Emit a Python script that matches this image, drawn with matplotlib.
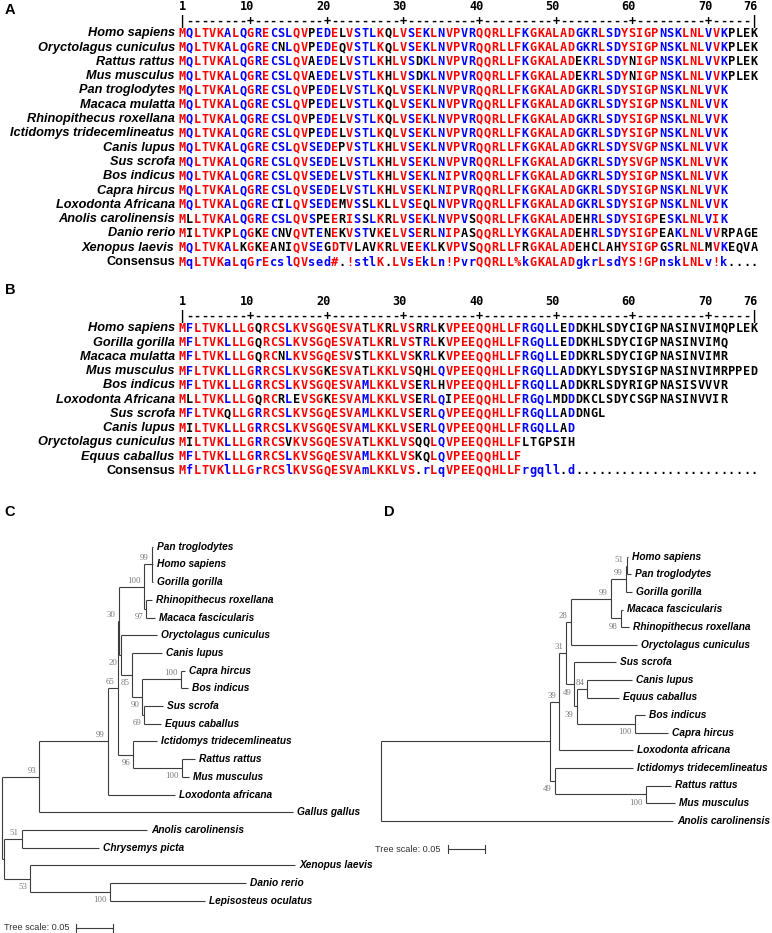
import re
import matplotlib.pyplot as plt

# ---------------- data ----------------
species_a = ["Homo sapiens", "Oryctolagus cuniculus", "Rattus rattus", "Mus musculus",
             "Pan troglodytes", "Macaca mulatta", "Rhinopithecus roxellana",
             "Ictidomys tridecemlineatus", "Canis lupus", "Sus scrofa", "Bos indicus",
             "Capra hircus", "Loxodonta Africana", "Anolis carolinensis", "Danio rerio",
             "Xenopus laevis"]
seqs_a = [
    "MQLTVKALQGRECSLQVPEDELVSTLKQLVSEKLNVPVRQQRLLFKGKALADGKRLSDYSIGPNSKLNLVVKPLEK",
    "MQLTVKALQGRECNLQVPEDEQVSTLKQLVSEKLNVPVRQQRLLFKGKALADGKRLSDYSIGPNSKLNLVVKPLEK",
    "MQLTVKALQGRECSLQVAEDELVSTLKHLVSDKLNVPVRQQRLLFKGKALADEKRLSDYNIGPNSKLNLVVKPLEK",
    "MQLTVKALQGRECSLQVAEDELVSTLKHLVSDKLNVPVRQQRLLFKGKALADEKRLSDYNIGPNSKLNLVVKPLEK",
    "MQLTVKALQGRECSLQVPEDELVSTLKQLVSEKLNVPVRQQRLLFKGKALADGKRLSDYSIGPNSKLNLVVK",
    "MQLTVKALQGRECSLQVPEDELVSTLKQLVSEKLNVPVRQQRLLFKGKALADGKRLSDYSIGPNSKLNLVVK",
    "MQLTVKALQGRECSLQVPEDELVSTLKQLVSEKLNVPVRQQRLLFKGKALADGKRLSDYSIGPNSKLNLVVK",
    "MQLTVKALQGRECSLQVPEDELVSTLKQLVSEKLNVPVRQQRLLFKGKALADGKRLSDYSIGPNSKLNLVVK",
    "MQLTVKALQGRECSLQVSEDEPVSTLKHLVSEKLNVPVRQQRLLFKGKALADGKRLSDYSVGPNSKLNLVVK",
    "MQLTVKALQGRECSLQVSEDELVSTLKHLVSEKLNVPVRQQRLLFKGKALADGKRLSDYSVGPNSKLNLVVK",
    "MQLTVKALQGRECSLQVSEDELVSTLKHLVSEKLNIPVRQQRLLFKGKALADGKRLSDYSIGPNSKLNLVVK",
    "MQLTVKALQGRECSLQVSEDELVSTLKHLVSEKLNIPVRQQRLLFKGKALADGKRLSDYSIGPNSKLNLVVK",
    "MQLTVKALQGRECILQVSEDEMVSSLKLLVSEQLNVPVRQQRLLFKGKALADGKRLSDYSIGPNSKLNLVVK",
    "MLLTVKALQGRECSLQVSPEERISSLKRLVSEKLNVPVSQQRLLFKGKALADEHRLSDYSIGPESKLNLVIK",
    "MILTVKPLQGKECNVQVTENEKVSTVKELVSERLNIPASQQRLLYKGKALADEHRLSDYSIGPEAKLNLVVRPAGE",
    "MQLTVKALKGKEANIQVSEGDTVLAVKRLVEEKLKVPVSQQRLLFRGKALADEHCLAHYSIGPGSRLNLMVKEQVA",
]
consensus_a = "MqLTVKaLqGrEcslQVsed#.!stlK.LVsEkLn!PvrQQRLL%kGKALADgkrLsdYS!GPnskLNLv!k...."

species_b = ["Homo sapiens", "Gorilla gorilla", "Macaca mulatta", "Mus musculus",
             "Bos indicus", "Loxodonta Africana", "Sus scrofa", "Canis lupus",
             "Oryctolagus cuniculus", "Equus caballus"]
seqs_b = [
    "MFLTVKLLLGQRCSLKVSGQESVATLKRLVSRRLKVPEEQQHLLFRGQLLEDDKHLSDYCIGPNASINVIMQPLEK",
    "MFLTVKLLLGQRCSLKVSGQESVATLKRLVSTRLKVPEEQQHLLFRGQLLEDDKHLSDYCIGPNASINVIMQ",
    "MFLTVKLLLGQRCNLKVSGQESVSTLKKLVSKRLKVPEEQQHLLFRGQLLEDDKRLSDYCIGPNASINVIMR",
    "MFLTVKLLLGRRCSLKVSGKESVATLKKLVSQHLQVPEEQQHLLFRGQLLADDKYLSDYSIGPNASINVIMRPPED",
    "MFLTVKLLLGRRCSLKVSGQESVAMLKKLVSERLHVPEEQQHLLFRGQLLADDKRLSDYRIGPNASISVVVR",
    "MLLTVKLLLGQRCRLEVSGKESVAMLKKLVSERLQIPEEQQHLLFRGQLMDDDKCLSDYCSGPNASINVVIR",
    "MFLTVKQLLGRRCSLKVSGQESVAMLKKLVSERLQVPEEQQHLLFRGQLLADDNGL",
    "MILTVKLLLGRRCSLKVSGQESVAMLKKLVSERLQVPEEQQHLLFRGQLLAD",
    "MILTVKLLLGRRCSVKVSGQESVATLKKLVSQQLQVPEEQQHLLFLTGPSIH",
    "MFLTVKLLLGRRCSLKVSGQESVAMLKKLVSKQLQVPEEQQHLLF",
]
consensus_b = "MfLTVKlLLGrRCSlKVSGQESVAmLKKLVS.rLqVPEEQQHLLFrgqll.d" + "." * 24

ruler_marks = [1, 10, 20, 30, 40, 50, 60, 70, 76]

tree_c = ("(((((((Pan_troglodytes:0.0021,Homo_sapiens:0.0021,Gorilla_gorilla:0.0021)99:0.0103,"
          "(Rhinopithecus_roxellana:0.0072,Macaca_fascicularis:0.0117)97:0.0031)100:0.0335,"
          "(Oryctolagus_cuniculus:0.0483,(Canis_lupus:0.0394,((Capra_hircus:0.0054,Bos_indicus:0.0098)100:0.0519,"
          "(Sus_scrofa:0.0255,Equus_caballus:0.0224)69:0.0027)90:0.0134)85:0.0155)20:0.0023)30:0.0017,"
          "(Ictidomys_tridecemlineatus:0.0314,(Rattus_rattus:0.0178,Mus_musculus:0.0102)100:0.0649)96:0.0209)65:0.0134,"
          "Loxodonta_africana:0.0902)99:0.0917,Gallus_gallus:0.3405)93:0.0504,"
          "((Anolis_carolinensis:0.1676,Chrysemys_picta:0.1040)51:0.0237,"
          "(Xenopus_laevis:0.3552,(Danio_rerio:0.1823,Lepisosteus_oculatus:0.1273)100:0.1072)53:0.0349):0.0031);")

tree_d = ("((((((((Homo_sapiens:0.0017,Pan_troglodytes:0.0058)51:0.0013,Gorilla_gorilla:0.0084)99:0.0197,"
          "(Macaca_fascicularis:0.0031,Rhinopithecus_roxellana:0.0111)98:0.0130)99:0.0540,"
          "Oryctolagus_cuniculus:0.0889)28:0.0063,(Sus_scrofa:0.0559,((Canis_lupus:0.0599,Equus_caballus:0.0425)84:0.0142,"
          "(Bos_indicus:0.0134,Capra_hircus:0.0442)100:0.0782)39:0.0032)49:0.0111)31:0.0094,"
          "Loxodonta_africana:0.0996)39:0.0121,(Ictidomys_tridecemlineatus:0.1050,"
          "(Rattus_rattus:0.0339,Mus_musculus:0.0393)100:0.1216)49:0.0067):0.2269,Anolis_carolinensis:0.3922);")

tree_scale = 0.05

# ---------------- layout ----------------
W, H = 772, 933
fig = plt.figure(figsize=(W / 100, H / 100), dpi=100)

COL1, COLW = 181.7, 7.633      # pixel x of column 1, column width
PX_PER_UNIT = 746              # tree scale, pixels per substitution
RED, BLUE = "#ff0000", "#0000ff"
GROUPS = {"!": "IV", "$": "LM", "%": "FY", "#": "NDQEBZ"}
MONO = dict(family="DejaVu Sans Mono", weight="bold", size=8.6)


def px_axes(x0, y0, x1, y1):
    ax = fig.add_axes([x0 / W, 1 - y1 / H, (x1 - x0) / W, (y1 - y0) / H])
    ax.set_axis_off()
    return ax


def residue_colour(res, cons):
    if cons in GROUPS:
        return RED if res in GROUPS[cons] else "black"
    if cons.isupper():
        return RED if res == cons else "black"
    if cons.islower():
        return BLUE if res == cons.upper() else "black"
    return "black"


def cons_colour(ch):
    if ch.isupper() or ch in GROUPS:
        return RED
    if ch.islower():
        return BLUE
    return "black"


def draw_alignment(top, bottom, row0, row_h, names, seqs, consensus):
    ax = px_axes(0, top, W, bottom)
    ax.set_xlim(1 - COL1 / COLW, 1 + (W - COL1) / COLW)
    ax.set_ylim((bottom - row0) / row_h, (top - row0) / row_h)
    n = len(consensus)
    for m in ruler_marks:
        ax.text(m + 0.5, -1.9, str(m), ha="right", va="center", color="black", **MONO)
    for c in range(1, n + 1):
        ch = "|" if c in (1, n) else ("+" if c % 10 == 0 else "-")
        ax.text(c, -0.85, ch, ha="center", va="center", color="black", **MONO)
    rows = list(zip(names, seqs)) + [("Consensus", consensus)]
    for r, (name, seq) in enumerate(rows):
        is_cons = name == "Consensus"
        ax.text(0.1, r, name, ha="right", va="center", family="Liberation Sans",
                weight="bold", style="normal" if is_cons else "italic", size=9.2)
        for c, ch in enumerate(seq):
            col = cons_colour(ch) if is_cons else residue_colour(ch, consensus[c])
            ax.text(c + 1, r, ch, ha="center", va="center", color=col, **MONO)


def parse_newick(s):
    s = s.strip().rstrip(";")
    pos = 0

    def node():
        nonlocal pos
        children = []
        if s[pos] == "(":
            pos += 1
            while True:
                children.append(node())
                if s[pos] == ",":
                    pos += 1
                    continue
                pos += 1
                break
        m = re.match(r"([^:,()]*)(?::([0-9.]+))?", s[pos:])
        pos += m.end()
        return {"name": m.group(1), "len": float(m.group(2) or 0), "children": children}

    return node()


def place(node, x0, leaves):
    node["x"] = x0 + node["len"]
    if node["children"]:
        for ch in node["children"]:
            place(ch, node["x"], leaves)
        node["y"] = (node["children"][0]["y"] + node["children"][-1]["y"]) / 2
    else:
        node["y"] = len(leaves)
        leaves.append(node)


LINE = dict(color="#3c3c3c", lw=0.8, solid_capstyle="butt")


def draw_node(ax, node):
    kids = node["children"]
    ax.plot([node["x"]] * 2, [kids[0]["y"], kids[-1]["y"]], **LINE)
    for i, ch in enumerate(kids):
        ax.plot([node["x"], ch["x"]], [ch["y"]] * 2, **LINE)
        if ch["children"]:
            draw_node(ax, ch)
            if ch["name"]:
                ax.annotate(ch["name"], (ch["x"], ch["y"]), xytext=(-2.2, 4.3 if i == 0 else -6),
                            textcoords="offset points", ha="right", va="center",
                            family="Liberation Serif", size=6.3, color="#7a7a7a")
        else:
            ax.annotate(ch["name"].replace("_", " "), (ch["x"], ch["y"]), xytext=(3, 0),
                        textcoords="offset points", ha="left", va="center",
                        family="Liberation Sans", weight="bold", style="italic", size=7.3)


def draw_tree(box, root_px, leaf0_px, leaf_h, newick, bar_x, bar_row):
    x0, y0, x1, y1 = box
    ax = px_axes(x0, y0, x1, y1)
    ax.set_xlim(-(root_px - x0) / PX_PER_UNIT, (x1 - root_px) / PX_PER_UNIT)
    ax.set_ylim((y1 - leaf0_px) / leaf_h, (y0 - leaf0_px) / leaf_h)
    root = parse_newick(newick)
    place(root, 0.0, [])
    draw_node(ax, root)
    # scale bar
    ax.plot([bar_x, bar_x + tree_scale], [bar_row] * 2, color="#3c3c3c", lw=0.8)
    for xb in (bar_x, bar_x + tree_scale):
        ax.plot([xb, xb], [bar_row - 0.22, bar_row + 0.22], color="#3c3c3c", lw=0.8)
    ax.annotate("Tree scale: %g" % tree_scale, (bar_x, bar_row), xytext=(-5, 0),
                textcoords="offset points", ha="right", va="center",
                family="Liberation Sans", size=6.6, color="#333333")


draw_alignment(0, 280, 33.3, 14.3, species_a, seqs_a, consensus_a)
draw_alignment(280, 495, 328.3, 14.25, species_b, seqs_b, consensus_b)

draw_tree((0, 520, 380, 933), 1.7, 546.7, 17.7, tree_c, 0.0996, 21.54)
draw_tree((380, 520, 772, 933), 380.7, 556.7, 17.6, tree_d, 0.0898, 16.61)

for letter, x, y in [("A", 5, 10), ("B", 5, 290), ("C", 4, 511.7), ("D", 384, 511.7)]:
    fig.text(x / W, 1 - y / H, letter, ha="left", va="center",
             family="Liberation Sans", weight="bold", size=10.5)

fig.savefig("out.png", dpi=100)
